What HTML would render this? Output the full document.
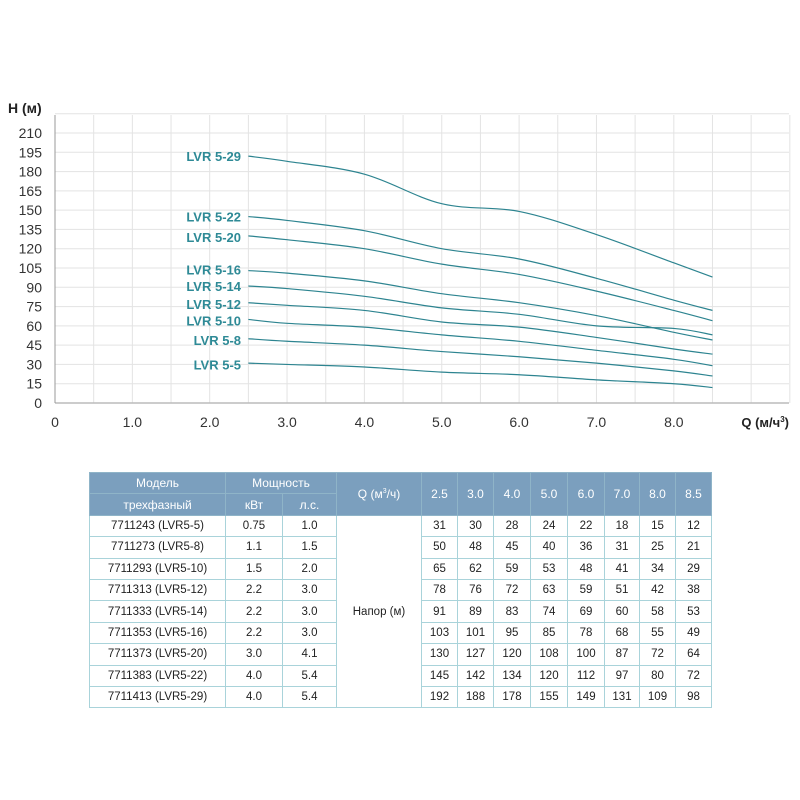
<!DOCTYPE html>
<html><head><meta charset="utf-8"><style>
body{margin:0;background:#fff;width:800px;height:800px;overflow:hidden;font-family:"Liberation Sans",sans-serif}
svg{position:absolute;left:0;top:0}
table{position:absolute;left:89px;top:472px;border-collapse:collapse;font-family:"Liberation Sans",sans-serif;font-size:11.5px;color:#222}
td{border:1px solid #a9d3da;text-align:center;padding:0;height:20.4px}
tr.h td{background:#7b9fbe;color:#fff;border:1px solid #8fb4c8;font-size:12px}
</style></head><body>
<svg width="800" height="460" id="s"></svg>
<table id="t"></table>
<script>
const X=q=>55+q*77.35, Y=h=>403-h*1.2857;
let s='';
for(let i=0;i<=19;i++){const x=55+i*38.675;s+=`<line x1="${x}" y1="115" x2="${x}" y2="403" stroke="#e3e3e3"/>`;}
for(let h=15;h<=225;h+=15){s+=`<line x1="55" y1="${Y(h)}" x2="789" y2="${Y(h)}" stroke="#e3e3e3"/>`;}
s+=`<line x1="55" y1="403" x2="789" y2="403" stroke="#bbb" stroke-width="1.5"/><line x1="55" y1="115" x2="55" y2="403" stroke="#999"/>`;
for(let h=0;h<=210;h+=15)s+=`<text x="42" y="${Y(h)+5}" text-anchor="end" font-size="14" fill="#333">${h}</text>`;
['0','1.0','2.0','3.0','4.0','5.0','6.0','7.0','8.0'].forEach((t,i)=>s+=`<text x="${X(i)}" y="427" text-anchor="middle" font-size="14" fill="#333">${t}</text>`);
s+=`<text x="8" y="113" font-size="14" font-weight="bold" fill="#222">H (м)</text>`;
s+=`<text x="789" y="427" text-anchor="end" font-size="13" font-weight="bold" fill="#222">Q (м/ч<tspan font-size="8" dy="-5">3</tspan><tspan dy="5">)</tspan></text>`;
const qs=[2.5,3,4,5,6,7,8,8.5];
const rows=[['7711243 (LVR5-5)','0.75','1.0',[31,30,28,24,22,18,15,12],'5-5',30],
['7711273 (LVR5-8)','1.1','1.5',[50,48,45,40,36,31,25,21],'5-8',49],
['7711293 (LVR5-10)','1.5','2.0',[65,62,59,53,48,41,34,29],'5-10',64],
['7711313 (LVR5-12)','2.2','3.0',[78,76,72,63,59,51,42,38],'5-12',77],
['7711333 (LVR5-14)','2.2','3.0',[91,89,83,74,69,60,58,53],'5-14',91],
['7711353 (LVR5-16)','2.2','3.0',[103,101,95,85,78,68,55,49],'5-16',104],
['7711373 (LVR5-20)','3.0','4.1',[130,127,120,108,100,87,72,64],'5-20',129],
['7711383 (LVR5-22)','4.0','5.4',[145,142,134,120,112,97,80,72],'5-22',145],
['7711413 (LVR5-29)','4.0','5.4',[192,188,178,155,149,131,109,98],'5-29',192]];
rows.forEach(r=>{
 const p=qs.map((q,i)=>[X(q),Y(r[3][i])]);
 let d=`M${p[0][0]},${p[0][1]}`;
 for(let i=0;i<p.length-1;i++){const p0=p[Math.max(0,i-1)],p1=p[i],p2=p[i+1],p3=p[Math.min(p.length-1,i+2)];
  d+=` C${p1[0]+(p2[0]-p0[0])/6},${p1[1]+(p2[1]-p0[1])/6} ${p2[0]-(p3[0]-p1[0])/6},${p2[1]-(p3[1]-p1[1])/6} ${p2[0]},${p2[1]}`;}
 s+=`<path d="${d}" fill="none" stroke="#2d8490" stroke-width="1.2"/>`;
 s+=`<text x="241" y="${Y(r[5])+5}" text-anchor="end" font-size="13" font-weight="bold" fill="#2e8a96">LVR ${r[4]}</text>`;
});
document.getElementById('s').innerHTML=s;
const W=[35,35,36,36,36,34,35,35];
let t=`<tr class="h"><td style="width:135px">Модель</td><td colspan="2">Мощность</td><td rowspan="2" style="width:84px">Q (м<sup style="font-size:7px">3</sup>/ч)</td>`+
['2.5','3.0','4.0','5.0','6.0','7.0','8.0','8.5'].map((v,i)=>`<td rowspan="2" style="width:${W[i]}px">${v}</td>`).join('')+`</tr>`+
`<tr class="h"><td>трехфазный</td><td style="width:56px">кВт</td><td style="width:53px">л.с.</td></tr>`;
rows.forEach((r,i)=>{t+=`<tr><td>${r[0]}</td><td>${r[1]}</td><td>${r[2]}</td>`+(i==0?`<td rowspan="9">Напор (м)</td>`:'')+r[3].map(v=>`<td>${v}</td>`).join('')+`</tr>`;});
document.getElementById('t').innerHTML=t;
</script>
</body></html>
